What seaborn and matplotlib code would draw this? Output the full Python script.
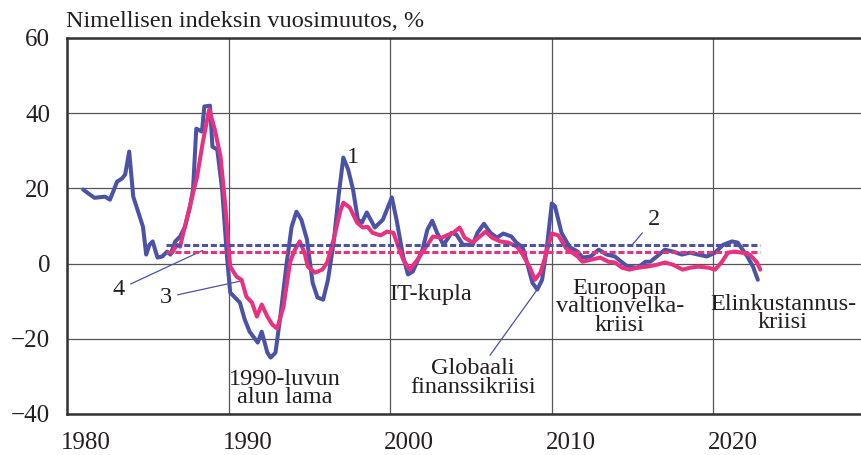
import numpy as np
import pandas as pd
import matplotlib
matplotlib.use("Agg")
import matplotlib.pyplot as plt
import matplotlib.transforms as mtransforms
import seaborn as sns

# series 1: nominal index, yearly change (blue)
blue_year = [1981.0, 1981.4, 1981.7, 1982.35, 1982.66, 1983.1, 1983.4, 1983.6, 1983.85, 1984.1,
             1984.5, 1984.7, 1984.9, 1985.1, 1985.3, 1985.6, 1985.9, 1986.2, 1986.4, 1986.7,
             1987.0, 1987.3, 1987.6, 1987.8, 1988.0, 1988.35, 1988.5, 1988.85, 1989.0, 1989.3,
             1989.6, 1989.9, 1990.1, 1990.7, 1991.0, 1991.3, 1991.8, 1992.05, 1992.4, 1992.6,
             1992.9, 1993.2, 1993.6, 1993.9, 1994.2, 1994.5, 1994.85, 1995.2, 1995.5, 1995.85,
             1996.15, 1996.5, 1996.8, 1997.1, 1997.4, 1997.7, 1998.0, 1998.25, 1998.55, 1999.05,
             1999.55, 2000.1, 2000.4, 2000.8, 2001.1, 2001.4, 2002.0, 2002.3, 2002.6, 2002.9,
             2003.3, 2003.8, 2004.1, 2004.5, 2005.1, 2005.4, 2005.8, 2006.2, 2006.6, 2007.0,
             2007.5, 2007.8, 2008.2, 2008.5, 2008.8, 2009.1, 2009.4, 2009.7, 2010.0, 2010.2,
             2010.6, 2011.1, 2011.6, 2011.9, 2012.4, 2012.9, 2013.4, 2013.9, 2014.3, 2014.7,
             2015.3, 2015.8, 2016.1, 2016.5, 2017.0, 2017.5, 2018.05, 2018.55, 2019.05, 2019.6,
             2020.1, 2020.6, 2021.15, 2021.5, 2022.1, 2022.45, 2022.75]
blue_val = [19.7, 18.4, 17.5, 17.8, 17.0, 21.8, 22.6, 23.7, 29.8, 17.8,
            12.5, 9.8, 2.4, 5.0, 5.9, 1.6, 1.9, 3.2, 2.4, 5.9,
            7.2, 9.8, 14.9, 19.7, 35.9, 35.1, 41.8, 42.0, 31.1, 30.3,
            19.7, 1.9, -7.7, -10.4, -14.9, -18.1, -21.0, -18.1, -23.7, -25.0,
            -23.7, -14.1, 0.3, 9.8, 13.8, 11.7, 6.4, -5.1, -9.0, -9.6,
            -4.3, 5.6, 17.8, 28.2, 25.0, 19.7, 11.7, 10.9, 13.6, 9.6,
            11.7, 17.6, 11.5, 1.9, -2.9, -2.1, 3.7, 9.0, 11.4, 8.2,
            5.0, 8.2, 7.7, 5.0, 5.0, 8.2, 10.6, 8.2, 6.9, 8.0,
            7.2, 5.6, 4.3, -0.3, -5.1, -6.9, -4.3, 4.5, 16.0, 15.2,
            8.2, 4.4, 3.2, 1.6, 1.9, 3.7, 2.4, 1.9, 0.5, -0.8,
            -1.1, 0.5, 0.5, 1.9, 3.7, 3.2, 2.4, 2.9, 2.4, 1.9,
            2.9, 5.0, 5.9, 5.6, 1.9, -0.8, -4.3]

# series 3 (pink)
pink_year = [1986.5, 1986.8, 1987.0, 1987.2, 1987.6, 1988.05, 1988.4, 1988.8, 1989.15, 1989.5,
             1989.8, 1990.1, 1990.5, 1990.8, 1991.1, 1991.45, 1991.75, 1992.05, 1992.4, 1992.7,
             1993.0, 1993.4, 1993.8, 1994.1, 1994.4, 1994.7, 1994.9, 1995.35, 1995.8, 1996.1,
             1996.5, 1996.9, 1997.1, 1997.5, 1997.95, 1998.3, 1998.6, 1998.9, 1999.4, 1999.8,
             2000.2, 2000.5, 2000.8, 2001.2, 2001.7, 2002.3, 2002.65, 2003.2, 2003.6, 2003.9,
             2004.3, 2004.6, 2005.1, 2005.55, 2005.9, 2006.3, 2006.8, 2007.3, 2007.85, 2008.2,
             2008.65, 2008.95, 2009.3, 2009.6, 2010.0, 2010.4, 2010.9, 2011.6, 2011.9, 2012.5,
             2013.0, 2013.5, 2013.9, 2014.35, 2014.8, 2015.3, 2015.9, 2016.5, 2017.0, 2017.5,
             2018.1, 2018.55, 2019.05, 2019.7, 2020.1, 2020.5, 2020.9, 2021.3, 2021.75, 2022.25,
             2022.7, 2022.9]
pink_val = [2.9, 5.0, 4.5, 8.2, 15.2, 23.1, 32.2, 41.0, 35.6, 28.5,
            15.2, -0.8, -3.5, -4.3, -8.8, -10.4, -14.1, -10.9, -14.1, -16.2,
            -17.3, -11.4, 0.3, 3.7, 5.9, 2.9, -0.8, -2.4, -1.6, 0.3,
            6.4, 13.8, 16.2, 14.9, 10.9, 9.6, 9.8, 8.2, 7.5, 8.5,
            8.2, 4.5, 1.1, -1.6, 1.1, 5.0, 7.2, 6.9, 7.7, 8.2,
            9.6, 6.9, 5.6, 7.2, 8.5, 6.9, 5.9, 5.6, 4.5, 2.4,
            -1.1, -4.3, -2.4, 1.9, 8.0, 7.5, 4.0, 1.9, 0.5, 1.1,
            1.6, 0.5, 0.3, -1.1, -1.6, -1.1, -0.8, -0.3, 0.3, -0.3,
            -1.6, -1.1, -0.8, -1.1, -1.6, 0.3, 2.9, 3.2, 2.9, 2.4,
            0.3, -1.6]

# long-term averages (2 = blue dashed, 4 = pink dashed)
avg_years = [1986.1, 2022.9]
avg2 = 4.9
avg4 = 3.2

x_ticks = [1980, 1990, 2000, 2010, 2020]
y_ticks = [-40, -20, 0, 20, 40, 60]

blue = "#4c53a6"
pink = "#e8317f"
txt = "#231f20"

sns.set_style("white")
plt.rcParams['font.family'] = ['Liberation Serif', 'DejaVu Serif']

df_blue = pd.DataFrame({"year": blue_year, "val": blue_val})
df_pink = pd.DataFrame({"year": pink_year, "val": pink_val})
df_avg = pd.DataFrame({"year": avg_years * 2,
                       "val": [avg2, avg2, avg4, avg4],
                       "s": ["2", "2", "4", "4"]})

fig = plt.figure(figsize=(8.62, 4.55), dpi=100)
ax = fig.add_axes([67 / 862, 41 / 455, 808 / 862, 376 / 455])

sns.lineplot(data=df_blue, x="year", y="val", ax=ax, color=blue, lw=2.9, zorder=3)
sns.lineplot(data=df_pink, x="year", y="val", ax=ax, color=pink, lw=2.9, zorder=4)
for s, c in [("4", pink), ("2", blue)]:
    sub = df_avg[df_avg.s == s]
    sns.lineplot(data=sub, x="year", y="val", ax=ax, color=c, lw=2.2,
                 dashes=False, linestyle=(0, (2.0, 0.9)), zorder=5)

ax.set_xlim(1980, 2030)
ax.set_ylim(-40, 60)
ax.set_xticks(x_ticks)
ax.set_yticks(y_ticks)
ax.set_xlabel("")
ax.set_ylabel("")
ax.grid(True, color="#555555", lw=0.9)
ax.set_axisbelow(True)
ax.tick_params(axis="both", length=0, labelsize=18, labelcolor=txt)
ax.tick_params(axis="x", pad=13)
ax.tick_params(axis="y", pad=12)
offset = mtransforms.ScaledTranslation(0.19, 0, fig.dpi_scale_trans)
for lab in ax.get_xticklabels():
    lab.set_transform(lab.get_transform() + offset)
for side in ["left", "top", "bottom", "right"]:
    ax.spines[side].set_color("#333333")
    ax.spines[side].set_linewidth(1.8)

fig.text(66 / 862, 1 - 27 / 455, "Nimellisen indeksin vuosimuutos, %", fontsize=17.5,
         color=txt, ha="left", va="baseline")

fs = 17.5
lead = dict(arrowstyle="-", color=blue, lw=0.9, shrinkA=2, shrinkB=0)
ax.text(1997.3, 28.3, "1", fontsize=fs, color=txt, ha="left", va="center")
ax.annotate("2", xy=(2015.0, 5.1), xytext=(2016.3, 11.7), fontsize=fs, color=txt,
            ha="center", va="center", arrowprops=lead)
ax.annotate("4", xy=(1988.4, 3.5), xytext=(1983.2, -6.9), fontsize=fs, color=txt,
            ha="center", va="center", arrowprops=lead)
ax.annotate("3", xy=(1990.9, -4.5), xytext=(1986.1, -9.0), fontsize=fs, color=txt,
            ha="center", va="center", arrowprops=lead)
ax.text(2002.5, -8.2, "IT-kupla", fontsize=fs, color=txt, ha="center", va="center")
ax.text(1993.5, -33.2, "1990-luvun\nalun lama", fontsize=fs, color=txt, ha="center",
        va="center", linespacing=0.85)
ax.annotate("Globaali\nfinanssikriisi", xy=(2009.1, -6.9), xytext=(2005.1, -30.5),
            fontsize=fs, color=txt, ha="center", va="center", linespacing=0.85,
            arrowprops=dict(arrowstyle="-", color=blue, lw=0.9, shrinkA=0, shrinkB=0,
                            relpos=(0.62, 1.0)))
ax.text(2014.2, -11.5, "Euroopan\nvaltionvelka-\nkriisi", fontsize=fs, color=txt,
        ha="center", va="center", linespacing=0.85)
ax.text(2024.3, -13.3, "Elinkustannus-\nkriisi", fontsize=fs, color=txt,
        ha="center", va="center", linespacing=0.85)

fig.savefig("out.png", dpi=100)
